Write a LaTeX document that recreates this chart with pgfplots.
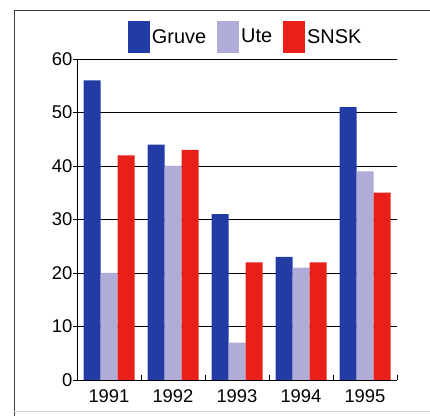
\documentclass[border=0pt]{standalone}
\usepackage{pgfplots}
\pgfplotsset{compat=1.18}
\usepackage{fontspec}
\setmainfont{Liberation Sans}
\definecolor{gruve}{RGB}{35,60,165}
\definecolor{ute}{RGB}{175,172,215}
\definecolor{snsk}{RGB}{232,32,25}
\begin{document}
\begin{tikzpicture}
\useasboundingbox (0,0) rectangle (430bp,416bp);
\fill[white] (0,0) rectangle (430bp,416bp);
\draw[black!75, line width=0.9bp] (14bp,0) -- (14bp,406bp) -- (430bp,406bp);
\draw[gray!35, line width=0.8bp] (14bp,5bp) -- (430bp,5bp);
\begin{axis}[
  at={(77bp,36bp)}, anchor=south west,
  scale only axis, width=320bp, height=321bp,
  xmin=0.5, xmax=5.5, ymin=0, ymax=60,
  ybar=0pt, bar width=17bp,
  axis x line*=bottom, axis y line*=left,
  axis line style={black, line width=0.9bp, -},
  xtick={1,2,3,4,5},
  xticklabels={1991,1992,1993,1994,1995},
  minor xtick={1.5,2.5,3.5,4.5,5.5},
  ytick={0,10,20,30,40,50,60},
  tick align=inside,
  major x tick style={draw=none},
  minor tick length=5bp,
  major tick length=4bp,
  y tick style={black, line width=0.8bp, xshift=-4bp},
  minor x tick style={black, line width=0.8bp},
  ymajorgrids, grid style={black, line width=0.8bp},
  tick label style={font=\fontsize{18.5}{20}\selectfont},
  y tick label style={xshift=-1bp},
  x tick label style={yshift=-6bp},
  /pgf/number format/assume math mode=true,
  legend columns=3,
  legend style={at={(0.527,1.069)}, anchor=center, draw=none, fill=none,
    font=\fontsize{20}{22}\selectfont,
    nodes={inner xsep=2bp},
    /tikz/every even column/.append style={column sep=9bp}},
  legend image code/.code={\fill[#1] (0bp,-16bp) rectangle (22bp,16bp);},
]
\addplot[fill=gruve, draw=none] coordinates {(1,56) (2,44) (3,31) (4,23) (5,51)};
\addplot[fill=ute, draw=none] coordinates {(1,20) (2,40) (3,7) (4,21) (5,39)};
\addplot[fill=snsk, draw=none] coordinates {(1,42) (2,43) (3,22) (4,22) (5,35)};
\legend{Gruve, Ute, SNSK}
\end{axis}
\end{tikzpicture}
\end{document}
